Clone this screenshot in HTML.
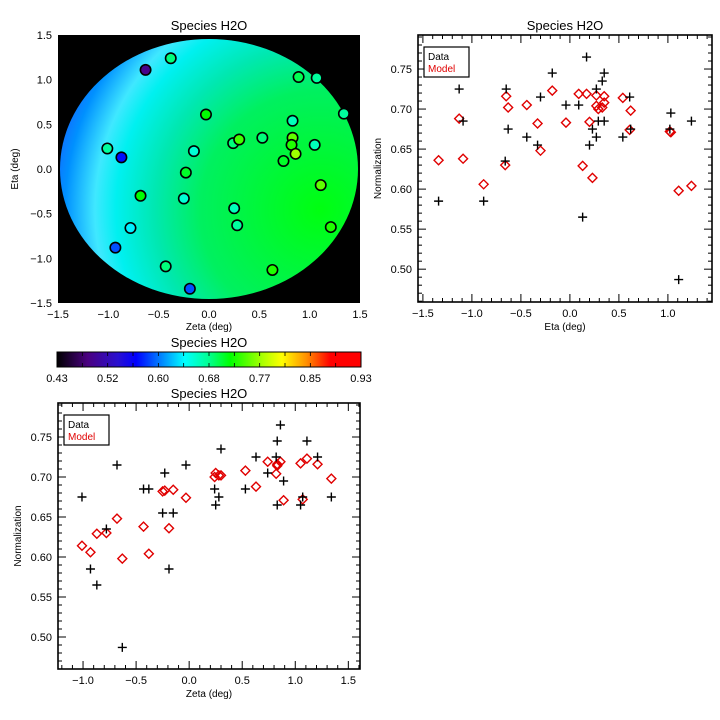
<!DOCTYPE html>
<html><head><meta charset="utf-8"><style>
html,body{margin:0;padding:0;background:#fff;width:720px;height:720px;overflow:hidden}
svg{display:block;font-family:"Liberation Sans",sans-serif}
</style></head><body>
<svg id="s" width="720" height="720" viewBox="0 0 720 720">
<defs>
<radialGradient id="fieldGrad" gradientUnits="userSpaceOnUse" cx="320" cy="210" r="300">
<stop offset="0" stop-color="#00ff10"/>
<stop offset="0.4" stop-color="#00f060"/>
<stop offset="0.55" stop-color="#00e8b0"/>
<stop offset="0.68" stop-color="#00f0f0"/>
<stop offset="0.75" stop-color="#40e8ff"/>
<stop offset="0.85" stop-color="#0090ff"/>
<stop offset="0.95" stop-color="#2050ff"/>
<stop offset="1" stop-color="#3040ff"/>
</radialGradient>
<linearGradient id="cbarGrad" x1="0" x2="1" y1="0" y2="0">
<stop offset="0" stop-color="#000000"/>
<stop offset="0.1" stop-color="#4a0080"/>
<stop offset="0.2" stop-color="#2a10d0"/>
<stop offset="0.26" stop-color="#0000ff"/>
<stop offset="0.35" stop-color="#0090ff"/>
<stop offset="0.42" stop-color="#00ffff"/>
<stop offset="0.5" stop-color="#00ff90"/>
<stop offset="0.57" stop-color="#00ff00"/>
<stop offset="0.68" stop-color="#b0ff00"/>
<stop offset="0.74" stop-color="#ffff00"/>
<stop offset="0.82" stop-color="#ff9000"/>
<stop offset="0.9" stop-color="#ff0000"/>
<stop offset="1" stop-color="#ff0000"/>
</linearGradient>
</defs>
</svg>
<script>
// Shared per-point data (30 pointings)
const zeta = [-0.38,-0.63,0.89,1.07,1.34,-0.03,0.83,-1.01,-0.87,-0.15,0.24,0.30,0.53,0.83,0.82,0.86,0.74,1.05,-0.23,1.11,-0.68,-0.25,0.25,0.28,1.21,-0.78,-0.93,-0.43,0.63,-0.19];
const eta = [1.24,1.11,1.03,1.02,0.62,0.61,0.54,0.23,0.13,0.20,0.29,0.33,0.35,0.35,0.27,0.17,0.09,0.27,-0.04,-0.18,-0.30,-0.33,-0.44,-0.63,-0.65,-0.66,-0.88,-1.09,-1.13,-1.34];
const dataVals = [0.685,0.487,0.695,0.675,0.675,0.715,0.665,0.675,0.565,0.655,0.685,0.735,0.685,0.745,0.725,0.765,0.705,0.665,0.705,0.745,0.715,0.655,0.665,0.675,0.725,0.635,0.585,0.685,0.725,0.585];
const modelVals = [0.604,0.598,0.671,0.672,0.698,0.674,0.714,0.614,0.629,0.684,0.700,0.702,0.708,0.716,0.704,0.719,0.719,0.717,0.683,0.723,0.648,0.682,0.705,0.702,0.716,0.630,0.606,0.638,0.688,0.636];
const cbarLabels = ["0.43","0.52","0.60","0.68","0.77","0.85","0.93"];
const mapTicks = ["-1.5","-1.0","-0.5","0.0","0.5","1.0","1.5"];
const etaXTicks = ["-1.5","-1.0","-0.5","0.0","0.5","1.0"];
const zetaXTicks = ["-1.0","-0.5","0.0","0.5","1.0","1.5"];
const normYTicks = ["0.50","0.55","0.60","0.65","0.70","0.75"];

const NS="http://www.w3.org/2000/svg";
const svg=document.getElementById('s');
function mk(tag,attrs,parent){const e=document.createElementNS(NS,tag);for(const k in attrs)e.setAttribute(k,attrs[k]);(parent||svg).appendChild(e);return e;}
function txt(str,x,y,size,attrs,parent){const t=mk('text',Object.assign({x:x,y:y,'font-size':size,'text-anchor':'middle',fill:'#000'},attrs||{}),parent);t.textContent=str;return t;}

const cmStops=[[0,[0,0,0]],[0.1,[74,0,128]],[0.2,[42,16,208]],[0.26,[0,0,255]],[0.35,[0,144,255]],[0.42,[0,255,255]],[0.5,[0,255,144]],[0.57,[0,255,0]],[0.68,[176,255,0]],[0.74,[255,255,0]],[0.82,[255,144,0]],[0.9,[255,0,0]],[1,[255,0,0]]];
function cmap(v){let t=(v-0.43)/(0.93-0.43);t=Math.max(0,Math.min(1,t));for(let i=1;i<cmStops.length;i++){if(t<=cmStops[i][0]){const a=cmStops[i-1],b=cmStops[i];const f=(t-a[0])/(b[0]-a[0]);const c=a[1].map((x,j)=>Math.round(x+(b[1][j]-x)*f));return `rgb(${c[0]},${c[1]},${c[2]})`;}}return 'rgb(255,0,0)';}

// ---------- Map panel ----------
const mg=mk('g',{});


const mX=v=>58+(v+1.5)/3*302, mY=v=>303-(v+1.5)/3*268;
const bg=mk('rect',{x:58,y:35,width:302,height:268,fill:'#000'},mg);


const field=mk('ellipse',{cx:mX(0),cy:mY(0),rx:149,ry:130,fill:'url(#fieldGrad)'},mg);


for(let i=0;i<zeta.length;i++){
  const c=mk('circle',{cx:mX(zeta[i]),cy:mY(eta[i]),r:5.2,fill:cmap(dataVals[i]),stroke:'#000','stroke-width':1.6},mg);
  
  
}
mapTicks.forEach((l,i)=>{const v=-1.5+i*0.5;
  const a=txt(l.replace('-','\u2212'),mX(v),318,11,{},mg);
  
  
  const b=txt(l.replace('-','\u2212'),52,mY(v)+4,11,{'text-anchor':'end'},mg);
  
  
});
let t;
t=txt('Species H2O',209,30,13,{},mg);
t=txt('Zeta (deg)',209,330,10,{},mg);
t=txt('Eta (deg)',0,0,10,{transform:'translate(18,169) rotate(-90)'},mg);

// ---------- Colorbar ----------
const cg=mk('g',{});


const cb=mk('rect',{x:57,y:352,width:304,height:15,fill:'url(#cbarGrad)',stroke:'#000','stroke-width':1},cg);


for(let k=1;k<12;k++){const x=57+k*304/12;mk('line',{x1:x,x2:x,y1:352,y2:356,stroke:'#000','stroke-width':0.8},cg);mk('line',{x1:x,x2:x,y1:367,y2:363,stroke:'#000','stroke-width':0.8},cg);}
cbarLabels.forEach((l,i)=>{const a=txt(l,57+i*304/6,382,11,{},cg);});
t=txt('Species H2O',209,347,13,{},cg);

// ---------- Scatter panels ----------
function scatterPanel(o){
  const g=mk('g',{});
  
  
  const X=v=>o.x0+(v-o.xmin)/(o.xmax-o.xmin)*(o.x1-o.x0);
  const Y=v=>o.y1-(v-o.ymin)/(o.ymax-o.ymin)*(o.y1-o.y0);
  const fr=mk('rect',{x:o.x0,y:o.y0,width:o.x1-o.x0,height:o.y1-o.y0,fill:'none',stroke:'#000','stroke-width':1.6},g);
  
  
  for(let v=Math.ceil(o.xmin*10-1e-6)/10; v<=o.xmax+1e-6; v=Math.round((v+0.1)*10)/10){
    const major=Math.abs(Math.round(v*2)-v*2)<1e-6; const L=major?8:4; const x=X(v);
    mk('line',{x1:x,x2:x,y1:o.y1,y2:o.y1-L,stroke:'#000','stroke-width':1},g);
    mk('line',{x1:x,x2:x,y1:o.y0,y2:o.y0+L,stroke:'#000','stroke-width':1},g);
  }
  for(let k=Math.ceil(o.ymin*100-1e-6); k<=o.ymax*100+1e-6; k++){
    const major=k%5===0; const L=major?8:4; const y=Y(k/100);
    mk('line',{x1:o.x0,x2:o.x0+L,y1:y,y2:y,stroke:'#000','stroke-width':1},g);
    mk('line',{x1:o.x1,x2:o.x1-L,y1:y,y2:y,stroke:'#000','stroke-width':1},g);
  }
  o.xticks.forEach(l=>{const a=txt(l.replace('-','\u2212'),X(parseFloat(l)),o.y1+15,11,{},g);});
  normYTicks.forEach(l=>{const a=txt(l,o.x0-6,Y(parseFloat(l))+4,11,{'text-anchor':'end'},g);});
  let a=txt('Species H2O',(o.x0+o.x1)/2,o.y0-5,13,{},g);
  a=txt(o.xtitle,(o.x0+o.x1)/2,o.y1+28,10,{},g);
  a=txt('Normalization',0,0,10,{transform:`translate(${o.x0-37},${(o.y0+o.y1)/2}) rotate(-90)`},g);
  const xs=o.xs;
  for(let i=0;i<xs.length;i++){
    const x=X(xs[i]),y=Y(modelVals[i]);
    const d=mk('path',{d:`M${x},${y-4.5}L${x+4.5},${y}L${x},${y+4.5}L${x-4.5},${y}Z`,fill:'none',stroke:'#e00000','stroke-width':1.4},g);
    
    
  }
  for(let i=0;i<xs.length;i++){
    const x=X(xs[i]),y=Y(dataVals[i]);
    const p=mk('path',{d:`M${x-4.5},${y}H${x+4.5}M${x},${y-4.5}V${y+4.5}`,stroke:'#000','stroke-width':1.4},g);
    
    
  }
  const lg=mk('g',{},g);
  
  
  mk('rect',{x:o.x0+6,y:o.y0+12,width:45,height:30,fill:'#fff',stroke:'#000','stroke-width':1.2},lg);
  a=txt('Data',o.x0+10,o.y0+25,10,{'text-anchor':'start'},lg);
  a=txt('Model',o.x0+10,o.y0+37,10,{'text-anchor':'start',fill:'#e00000'},lg);
}
scatterPanel({name:'eta-normalization-panel',x0:418,x1:712,y0:35,y1:302,xmin:-1.55,xmax:1.45,ymin:0.459,ymax:0.7925,xs:eta,xticks:etaXTicks,xtitle:'Eta (deg)'});
scatterPanel({name:'zeta-normalization-panel',x0:58,x1:360,y0:403,y1:669,xmin:-1.236,xmax:1.61,ymin:0.46,ymax:0.7925,xs:zeta,xticks:zetaXTicks,xtitle:'Zeta (deg)'});
</script>
</body></html>
